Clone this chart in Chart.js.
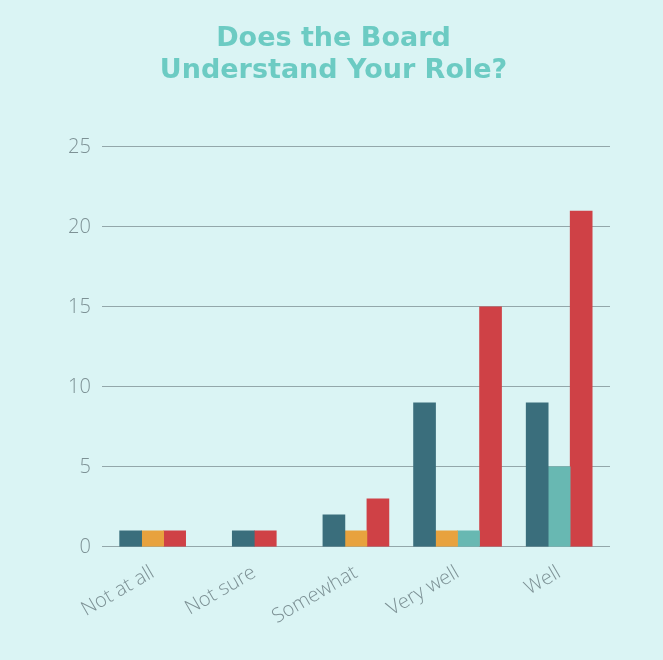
<!DOCTYPE html>
<html>
<head>
<meta charset="utf-8">
<script src="https://cdn.jsdelivr.net/npm/chart.js@4"></script>
<style>
  html, body { margin: 0; padding: 0; background: #daf4f4; }
  #wrap { width: 663px; height: 660px; }
</style>
</head>
<body>
<div id="wrap"><canvas id="board-chart"></canvas></div>
<script>
const categories = ["Not at all", "Not sure", "Somewhat", "Very well", "Well"];
// null = nobody answered in that group, bar is skipped
const darkTeal = [1, 1, 2, 9, 9];
const orange = [1, null, 1, 1, null];
const lightTeal = [null, null, null, 1, 5];
const red = [1, 1, 3, 15, 21];
const yTicks = [0, 5, 10, 15, 20, 25];

const tickColor = "#7d9195";
const gridColor = "#93a7aa";

new Chart(document.getElementById("board-chart"), {
  type: "bar",
  data: {
    labels: categories,
    datasets: [
      { label: "Group 1", data: darkTeal, backgroundColor: "#3a6e7c" },
      { label: "Group 2", data: orange, backgroundColor: "#e8a23e" },
      { label: "Group 3", data: lightTeal, backgroundColor: "#68b8b2" },
      { label: "Group 4", data: red, backgroundColor: "#cf4146" },
    ],
  },
  options: {
    responsive: true,
    maintainAspectRatio: false,
    animation: false,
    skipNull: true,
    barThickness: 22,
    layout: { padding: { left: 57, right: 53, top: 10, bottom: 25 } },
    plugins: {
      legend: { display: false },
      tooltip: { enabled: false },
      title: {
        display: true,
        text: ["Does the Board", "Understand Your Role?"],
        color: "#6ccbc3",
        font: { family: "DejaVu Sans", size: 27, weight: "bold", lineHeight: 1.185 },
        padding: { top: 13, bottom: 60 },
      },
    },
    scales: {
      x: {
        grid: { display: false },
        border: { display: false },
        ticks: {
          color: tickColor,
          font: { family: "Open Sans", size: 20, weight: "300" },
          minRotation: 30,
          maxRotation: 30,
          padding: 6,
        },
      },
      y: {
        min: 0,
        max: 25,
        afterBuildTicks: (axis) => {
          axis.ticks = yTicks.map((v) => ({ value: v }));
        },
        grid: { color: gridColor, lineWidth: 1, drawTicks: false },
        border: { display: false },
        ticks: {
          color: tickColor,
          font: { family: "Open Sans", size: 20, weight: "300" },
          padding: 11,
        },
      },
    },
  },
});
</script>
</body>
</html>
